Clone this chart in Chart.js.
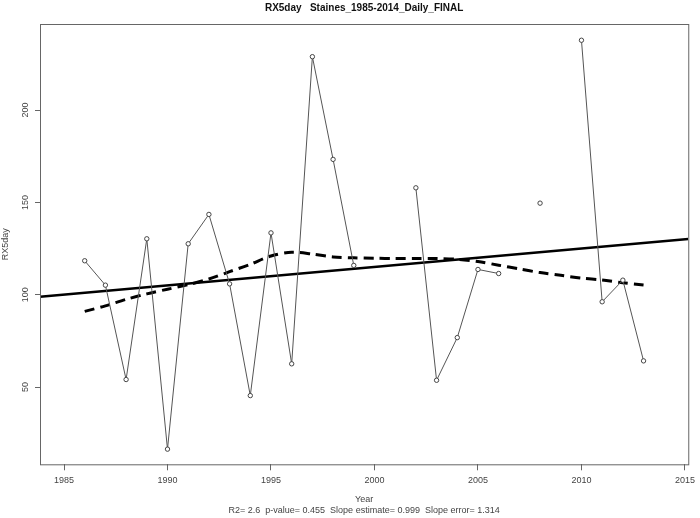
<!DOCTYPE html>
<html>
<head>
<meta charset="utf-8">
<script src="https://cdn.jsdelivr.net/npm/chart.js@4/dist/chart.umd.min.js"></script>
<style>
    html, body { margin: 0; padding: 0; background: #fff; }
    #wrap { width: 700px; height: 518px; }
</style>
</head>
<body>
<div id="wrap"><canvas id="rxChart" width="700" height="518"></canvas></div>
<script>
// --- Data ---
let years = [1986, 1987, 1988, 1989, 1990, 1991, 1992, 1993, 1994, 1995, 1996, 1997, 1998, 1999,
    2000, 2001, 2002, 2003, 2004, 2005, 2006, 2007, 2008, 2009, 2010, 2011, 2012, 2013];
let rx5day = [118.4, 105.2, 54.1, 130.3, 16.4, 127.6, 143.5, 105.9, 45.4, 133.5, 62.6, 228.9, 173.3, 115.9,
    null, null, 157.9, 53.7, 76.8, 113.7, 111.5, null, 149.6, null, 237.8, 96.2, 107.9, 64.2];

// smoothed (dashed) curve, one value per year
let smoothValues = [91, 94, 97.5, 100.5, 103, 105.5, 108.5, 112.5, 116.5, 121, 123, 122, 120.5, 120,
    119.8, 119.6, 119.6, 119.6, 119.2, 118, 116, 114, 112, 110.5, 109, 108, 106.5, 105.3];

// linear trend end points
let trendYears = [1983.84, 2015.16];
let trendValues = [98.9, 130.2];

let xTicks = [1985, 1990, 1995, 2000, 2005, 2010, 2015];
let yTicks = [50, 100, 150, 200];

let titleText = "RX5day   Staines_1985-2014_Daily_FINAL";
let xLabel = "Year";
let yLabel = "RX5day";
let statsText = "R2= 2.6  p-value= 0.455  Slope estimate= 0.999  Slope error= 1.314";

// --- Helpers ---
function toPoints(xs, ys){
    return xs.map((x, i) => ({x: x, y: ys[i]}));
}

const FONT = "'Liberation Sans', Arial, sans-serif";

// --- Plugin: box, rotated y labels, titles ---
let rPlotPlugin = {
    id: 'rPlot',
    afterDraw(chart){
        let ctx = chart.ctx;
        let area = chart.chartArea;
        let yScale = chart.scales.y;
        ctx.save();

        // box round the plot
        ctx.strokeStyle = '#666';
        ctx.lineWidth = 1;
        ctx.strokeRect(area.left + 0.5, area.top + 0.5, area.right - area.left, area.bottom - area.top);

        // rotated y tick labels
        ctx.fillStyle = '#444';
        ctx.font = '9px ' + FONT;
        ctx.textAlign = 'center';
        ctx.textBaseline = 'middle';
        yTicks.forEach(v => {
            ctx.save();
            ctx.translate(26, yScale.getPixelForValue(v));
            ctx.rotate(-Math.PI / 2);
            ctx.fillText(String(v), 0, 0);
            ctx.restore();
        });

        // y axis title
        ctx.save();
        ctx.translate(6, (area.top + area.bottom) / 2);
        ctx.rotate(-Math.PI / 2);
        ctx.fillText(yLabel, 0, 0);
        ctx.restore();

        let cx = (area.left + area.right) / 2;

        // main title
        ctx.fillStyle = '#111';
        ctx.font = 'bold 10px ' + FONT;
        ctx.fillText(titleText, cx, 8);

        // x axis title and stats line
        ctx.fillStyle = '#444';
        ctx.font = '9px ' + FONT;
        ctx.fillText(xLabel, cx, 500);
        ctx.fillText(statsText, cx, 511);

        ctx.restore();
    }
};

// --- Chart ---
let ctx = document.getElementById('rxChart').getContext('2d');
let rxChart = new Chart(ctx, {
    type: 'line',
    data: {
        datasets: [
            {
                label: 'RX5day',
                data: toPoints(years, rx5day),
                borderColor: '#555',
                borderWidth: 1,
                pointRadius: 2.2,
                pointBackgroundColor: '#fff',
                pointBorderColor: '#444',
                pointBorderWidth: 1,
                spanGaps: false,
                tension: 0
            },
            {
                label: 'Trend',
                data: toPoints(trendYears, trendValues),
                borderColor: '#000',
                borderWidth: 2.5,
                pointRadius: 0
            },
            {
                label: 'Smooth',
                data: toPoints(years, smoothValues),
                borderColor: '#000',
                borderWidth: 3,
                borderDash: [10, 6],
                pointRadius: 0,
                tension: 0.3
            }
        ]
    },
    options: {
        responsive: false,
        animation: false,
        events: [],
        layout: { padding: { left: 0, right: 8.3, top: 24, bottom: 0 } },
        plugins: {
            legend: { display: false },
            tooltip: { enabled: false }
        },
        scales: {
            x: {
                type: 'linear',
                min: 1983.84,
                max: 2015.16,
                afterBuildTicks: scale => { scale.ticks = xTicks.map(v => ({value: v})); },
                afterFit: scale => { scale.height = 518 - 464.3; },
                border: { display: false },
                grid: { drawOnChartArea: false, drawTicks: true, tickLength: 6, color: '#666' },
                ticks: {
                    color: '#444',
                    font: { family: FONT, size: 9 },
                    padding: 5,
                    maxRotation: 0,
                    callback: v => String(v)
                }
            },
            y: {
                min: 8.2,
                max: 246.6,
                afterBuildTicks: scale => { scale.ticks = yTicks.map(v => ({value: v})); },
                afterFit: scale => { scale.width = 40; },
                border: { display: false },
                grid: { drawOnChartArea: false, drawTicks: true, tickLength: 5, color: '#666' },
                ticks: { display: false }
            }
        }
    },
    plugins: [rPlotPlugin]
});
</script>
</body>
</html>
